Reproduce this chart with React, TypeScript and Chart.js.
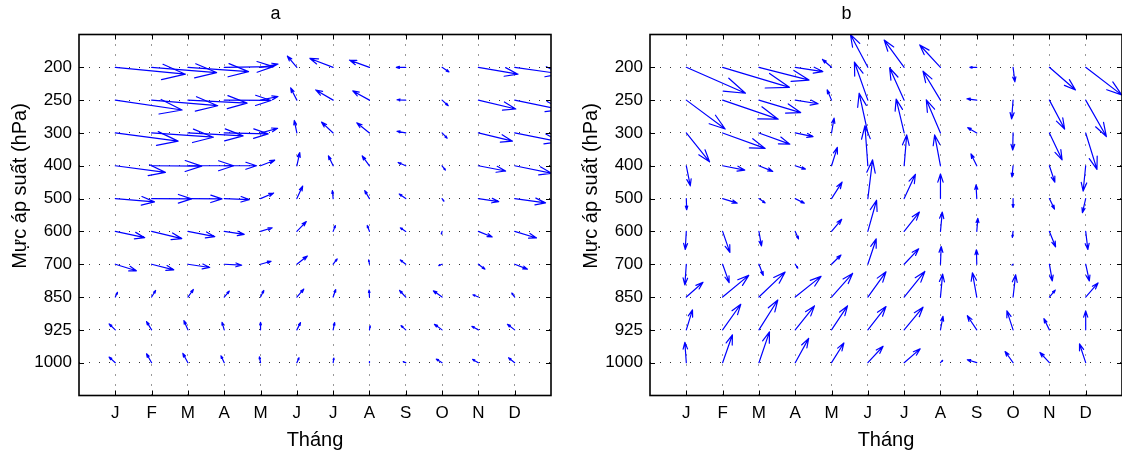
import React, { useEffect, useRef } from 'react';
import { Chart, registerables } from 'chart.js';

Chart.register(...registerables);

// ---- data ----
const months = ['J', 'F', 'M', 'A', 'M', 'J', 'J', 'A', 'S', 'O', 'N', 'D'];
const levels = ['200', '250', '300', '400', '500', '600', '700', '850', '925', '1000'];
const yAxisLabel = 'Mực áp suất (hPa)';
const xAxisLabel = 'Tháng';

// panel a: zonal (u) and meridional (v) components, rows = levels (200 -> 1000), cols = months
const uA = [
  [19.3, 17.9, 16.7, 13.5, 4.8, -2.6, -6.4, -5.5, -2.6, 1.9, 10.9, 12.7],
  [18.4, 18.2, 16.3, 12.9, 4.8, -1.7, -4.8, -4.6, -2.4, 1.7, 10.3, 12.9],
  [17.3, 17.0, 15.2, 12.1, 4.7, -0.7, -3.2, -3.5, -2.4, 1.4, 9.4, 12.4],
  [13.8, 13.8, 12.6, 8.9, 3.9, 0.8, -1.3, -2.0, -2.1, 0.9, 7.5, 10.2],
  [10.8, 11.0, 9.4, 6.9, 3.6, 1.6, -0.2, -1.3, -1.8, 0.5, 5.6, 8.5],
  [8.1, 8.3, 7.4, 5.5, 3.2, 2.6, 0.6, -0.6, -1.5, -0.2, 3.8, 6.0],
  [5.8, 6.1, 6.0, 4.8, 2.9, 2.9, 1.1, -0.2, -1.5, -0.9, 1.8, 3.5],
  [0.6, 1.1, 1.5, 1.4, 0.9, 1.9, 0.7, -0.1, -1.7, -2.4, -1.5, -0.8],
  [-1.7, -1.4, -1.1, -0.6, 0.0, 1.0, 0.4, 0.2, -1.3, -2.1, -1.8, -2.0],
  [-1.7, -1.4, -1.4, -0.9, -0.3, 0.6, 0.2, 0.0, -0.7, -1.6, -1.6, -1.7],
];
const vA = [
  [-2.1, -1.6, -1.3, 0.2, 1.0, 3.4, 2.7, 2.2, 0.0, -1.4, -2.1, -2.0],
  [-3.0, -1.7, -0.9, -0.1, 1.1, 3.7, 3.1, 2.8, 0.1, -1.7, -2.7, -2.9],
  [-2.5, -1.3, -0.9, -0.3, 1.4, 3.8, 3.3, 3.1, 0.5, -1.6, -2.5, -2.7],
  [-2.0, -0.1, 0.0, 0.0, 1.7, 4.0, 3.0, 3.0, 1.0, -1.3, -1.6, -2.3],
  [-1.0, -0.1, -0.1, -0.3, 1.7, 3.8, 2.4, 2.4, 1.4, -0.8, -0.9, -1.3],
  [-1.9, -2.2, -1.6, -0.9, 1.1, 3.0, 1.8, 1.8, 1.1, -0.8, -1.7, -2.0],
  [-2.0, -1.7, -1.0, -0.3, 0.9, 2.5, 1.6, 1.3, 1.3, -0.4, -1.5, -1.5],
  [1.4, 2.0, 2.3, 1.8, 2.0, 2.4, 2.3, 2.1, 2.0, 1.9, 0.7, 1.2],
  [1.8, 2.5, 2.8, 2.3, 2.3, 2.2, 2.2, 1.2, 1.3, 1.7, 1.1, 1.7],
  [1.7, 2.7, 2.8, 2.1, 1.8, 1.5, 1.4, 0.3, 0.3, 1.1, 1.0, 1.5],
];

// panel b
const uB = [
  [16.3, 18.4, 13.8, 7.6, -2.5, -4.8, -5.5, -5.7, -1.9, 0.5, 7.2, 9.9],
  [10.7, 15.3, 11.5, 6.3, -1.2, -3.7, -4.0, -4.8, -2.7, -0.4, 4.2, 5.7],
  [6.4, 11.7, 8.5, 4.9, 0.7, -2.4, -2.2, -3.9, -2.5, -0.1, 3.5, 3.1],
  [1.1, 6.1, 3.8, 2.8, 1.6, -0.8, 0.7, -1.6, -1.6, -0.3, 1.5, -0.7],
  [0.1, 4.0, 1.7, 2.5, 2.9, 1.3, 3.1, 0.0, -0.2, 0.0, 1.4, -0.9],
  [-0.3, 2.0, 0.7, 0.9, 2.8, 2.4, 4.2, 0.5, 0.3, -0.2, 1.7, 0.6],
  [-0.4, 1.8, 1.2, 0.7, 2.6, 2.3, 4.0, 0.2, -0.1, -0.3, 0.8, 1.0],
  [4.6, 7.2, 7.2, 7.1, 5.8, 5.0, 5.7, 0.6, -1.2, 0.7, 1.6, 3.4],
  [1.7, 5.0, 5.2, 5.3, 4.4, 5.0, 5.2, 0.7, -2.6, -1.7, -1.5, 0.0],
  [-0.4, 2.7, 2.9, 3.7, 3.4, 4.2, 4.4, 0.6, -2.6, -2.2, -2.6, -1.7],
];
const vB = [
  [-7.9, -6.1, -3.9, -1.3, 2.4, 10.0, 8.3, 6.8, 0.0, -4.4, -6.9, -8.4],
  [-8.8, -5.8, -3.8, -1.1, 3.1, 11.6, 9.8, 8.8, 0.4, -5.7, -8.8, -11.1],
  [-8.8, -4.7, -3.4, -1.1, 4.5, 12.1, 10.3, 10.1, 1.6, -5.2, -8.2, -11.1],
  [-6.1, -1.3, -1.7, -1.0, 5.6, 12.2, 9.4, 9.4, 3.6, -3.4, -5.0, -7.7],
  [-3.4, -1.4, -1.3, -1.4, 5.0, 11.8, 7.4, 7.5, 4.2, -2.7, -3.2, -4.3],
  [-5.5, -6.4, -4.4, -2.3, 3.7, 9.5, 5.9, 5.9, 4.0, -1.8, -4.7, -5.5],
  [-6.3, -5.6, -3.4, -1.2, 2.8, 7.7, 4.7, 5.4, 4.4, -0.3, -5.1, -5.1],
  [4.5, 6.6, 7.6, 6.3, 7.2, 7.7, 7.8, 7.0, 7.4, 6.8, 2.1, 4.3],
  [6.1, 7.8, 9.1, 7.3, 7.3, 7.1, 6.9, 4.1, 4.3, 5.8, 3.4, 5.8],
  [6.2, 8.5, 9.4, 7.4, 6.0, 5.0, 4.2, 0.7, 0.9, 3.4, 3.1, 5.7],
];

const QUIVER_SCALE = 0.1; // data units per unit of u / v
const FAMILY = "'Liberation Sans', Arial, Helvetica, sans-serif";

type Pt = { x: number; y: number; u: number; v: number };

function buildPoints(u: number[][], v: number[][]): Pt[] {
  const pts: Pt[] = [];
  levels.forEach((_, li) => {
    months.forEach((_, mi) => {
      pts.push({ x: mi + 1, y: li + 1, u: u[li][mi], v: v[li][mi] });
    });
  });
  return pts;
}

const quiverPlugin = {
  id: 'quiver',
  afterDatasetsDraw(chart: any) {
    const { ctx, chartArea: ca, scales } = chart;
    const xs = scales.x;
    const ys = scales.y;
    ctx.save();
    ctx.beginPath();
    ctx.rect(ca.left, ca.top, ca.right - ca.left, ca.bottom - ca.top);
    ctx.clip();
    ctx.strokeStyle = '#0000ff';
    ctx.lineWidth = 1.2;
    ctx.lineCap = 'round';
    ctx.lineJoin = 'round';
    const data: Pt[] = chart.data.datasets[0].data;
    const alpha = 0.33;
    const beta = 0.33;
    data.forEach((p) => {
      const x0 = xs.getPixelForValue(p.x);
      const y0 = ys.getPixelForValue(p.y);
      const x1 = xs.getPixelForValue(p.x + p.u * QUIVER_SCALE);
      const y1 = ys.getPixelForValue(p.y - p.v * QUIVER_SCALE);
      const dx = x1 - x0;
      const dy = y1 - y0;
      const hx1 = x1 - alpha * (dx + beta * dy);
      const hy1 = y1 - alpha * (dy - beta * dx);
      const hx2 = x1 - alpha * (dx - beta * dy);
      const hy2 = y1 - alpha * (dy + beta * dx);
      ctx.beginPath();
      ctx.moveTo(x0, y0);
      ctx.lineTo(x1, y1);
      ctx.moveTo(hx1, hy1);
      ctx.lineTo(x1, y1);
      ctx.lineTo(hx2, hy2);
      ctx.stroke();
    });
    ctx.restore();
  },
  afterDraw(chart: any) {
    const { ctx, chartArea: ca, scales } = chart;
    const xs = scales.x;
    const ys = scales.y;
    ctx.save();
    // inward ticks
    ctx.strokeStyle = '#000';
    ctx.lineWidth = 1;
    const T = 5;
    ctx.beginPath();
    xs.ticks.forEach((t: any) => {
      const px = Math.round(xs.getPixelForValue(t.value)) + 0.5;
      ctx.moveTo(px, ca.bottom);
      ctx.lineTo(px, ca.bottom - T);
      ctx.moveTo(px, ca.top);
      ctx.lineTo(px, ca.top + T);
    });
    ys.ticks.forEach((t: any) => {
      const py = Math.round(ys.getPixelForValue(t.value)) + 0.5;
      ctx.moveTo(ca.left, py);
      ctx.lineTo(ca.left + T, py);
      ctx.moveTo(ca.right, py);
      ctx.lineTo(ca.right - T, py);
    });
    ctx.stroke();
    // box
    ctx.lineWidth = 1.6;
    ctx.strokeRect(ca.left, ca.top, ca.right - ca.left, ca.bottom - ca.top);
    // y axis label
    ctx.fillStyle = '#000';
    ctx.font = `20px ${FAMILY}`;
    ctx.textAlign = 'center';
    ctx.textBaseline = 'middle';
    ctx.translate(ca.left - 59, 186);
    ctx.rotate(-Math.PI / 2);
    ctx.fillText(yAxisLabel, 0, 0);
    ctx.restore();
  },
};

function makeConfig(title: string, u: number[][], v: number[][], padRight: number) {
  return {
    type: 'scatter' as const,
    data: {
      datasets: [
        {
          data: buildPoints(u, v),
          pointRadius: 0,
          showLine: false,
        },
      ],
    },
    options: {
      responsive: false,
      maintainAspectRatio: false,
      animation: false as const,
      events: [],
      layout: { padding: { left: 0, right: padRight, top: 0, bottom: 0 } },
      plugins: {
        legend: { display: false },
        tooltip: { enabled: false },
        title: {
          display: true,
          text: title,
          color: '#000',
          font: { family: FAMILY, size: 18, weight: 'normal' as const },
          padding: { top: 3.5, bottom: 9.4 },
        },
      },
      scales: {
        x: {
          type: 'linear' as const,
          min: 0,
          max: 13,
          afterBuildTicks: (s: any) => {
            s.ticks = months.map((_, i) => ({ value: i + 1 }));
          },
          afterFit: (s: any) => {
            s.height = 60.5;
          },
          ticks: {
            autoSkip: false,
            maxRotation: 0,
            padding: 8,
            color: '#000',
            font: { family: FAMILY, size: 17 },
            callback: (_v: any, i: number) => months[i],
          },
          grid: { color: '#333', lineWidth: 1, drawTicks: false },
          border: { display: false, dash: [1, 9] },
          title: {
            display: true,
            text: xAxisLabel,
            color: '#000',
            font: { family: FAMILY, size: 20 },
            padding: { top: 0, bottom: 4 },
          },
        },
        y: {
          type: 'linear' as const,
          min: 0,
          max: 11,
          reverse: true,
          afterBuildTicks: (s: any) => {
            s.ticks = levels.map((_, i) => ({ value: i + 1 }));
          },
          afterFit: (s: any) => {
            s.width = 79;
          },
          ticks: {
            autoSkip: false,
            padding: 7,
            color: '#000',
            font: { family: FAMILY, size: 17 },
            callback: (_v: any, i: number) => levels[i],
          },
          grid: { color: '#333', lineWidth: 1, drawTicks: false },
          border: { display: false, dash: [1, 9] },
        },
      },
    },
    plugins: [quiverPlugin],
  };
}

function Panel(props: { title: string; u: number[][]; v: number[][]; left: number; width: number; padRight: number }) {
  const ref = useRef<HTMLCanvasElement>(null);
  useEffect(() => {
    if (!ref.current) return;
    const chart = new Chart(ref.current, makeConfig(props.title, props.u, props.v, props.padRight) as any);
    return () => chart.destroy();
  }, []);
  return (
    <div style={{ position: 'absolute', left: props.left, top: 0, width: props.width, height: 456 }}>
      <canvas ref={ref} width={props.width} height={456} style={{ width: props.width, height: 456 }} />
    </div>
  );
}

export default function App() {
  return (
    <div style={{ position: 'absolute', left: 0, top: 0, width: 1122, height: 456, background: '#fff', overflow: 'hidden' }}>
      <Panel title="a" u={uA} v={vA} left={0} width={561} padRight={10} />
      <Panel title="b" u={uB} v={vB} left={571} width={551} padRight={0} />
    </div>
  );
}
